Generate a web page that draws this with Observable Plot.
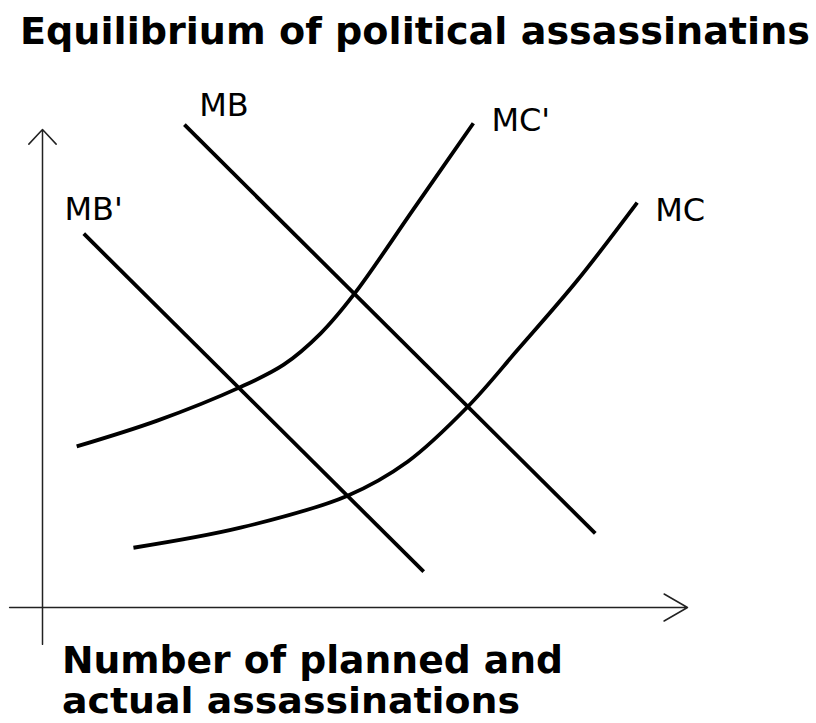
<!DOCTYPE html>
<html>
<head>
<meta charset="utf-8">
<script src="https://cdn.jsdelivr.net/npm/d3@7"></script>
<script src="https://cdn.jsdelivr.net/npm/@observablehq/plot@0.6"></script>
<style>
  html, body { margin: 0; padding: 0; background: #fff; }
  body { width: 816px; height: 723px; overflow: hidden; }
  svg { display: block; }
</style>
</head>
<body>
<div id="title"></div>
<div id="chart"></div>
<div id="caption"></div>
<script>
// ---- text ----
const titleText = "Equilibrium of political assassinatins";
const captionLines = ["Number of planned and", "actual assassinations"];

// ---- curves (abstract units: x 0..10 along horizontal axis, y 0..10 up the vertical axis) ----
const mbX = [2.20, 8.57];
const mbY = [10.10, 1.55];

const mbPrimeX = [0.64, 5.91];
const mbPrimeY = [7.82, 0.75];

const mcPrimeX = [0.53, 1.78, 3.05, 3.74, 4.31, 4.84, 5.75, 6.68];
const mcPrimeY = [3.37, 3.91, 4.60, 5.08, 5.73, 6.57, 8.33, 10.13];

const mcX = [1.41, 3.07, 4.73, 5.66, 6.60, 7.36, 8.29, 9.22];
const mcY = [1.25, 1.67, 2.34, 3.05, 4.21, 5.38, 6.84, 8.47];

// ---- curve labels ----
const labelNames = ["MB", "MB'", "MC'", "MC"];
const labelX = [2.43, 0.34, 6.96, 9.50];
const labelY = [10.29, 8.10, 9.96, 8.08];

// ---- axes (from origin) ----
const yAxisFrom = [0, -0.77];
const yAxisTo = [0, 10];
const xAxisFrom = [-0.51, 0];
const xAxisTo = [10, 0];

// build tables
const series = [
  ["MB", mbX, mbY],
  ["MB'", mbPrimeX, mbPrimeY],
  ["MC'", mcPrimeX, mcPrimeY],
  ["MC", mcX, mcY]
];
const lineData = series.flatMap(([name, xs, ys]) => xs.map((x, i) => ({name, x, y: ys[i]})));
const labels = labelNames.map((t, i) => ({t, x: labelX[i], y: labelY[i]}));

const NS = "http://www.w3.org/2000/svg";
function textSvg(h, items) {
  const svg = document.createElementNS(NS, "svg");
  svg.setAttribute("width", 816);
  svg.setAttribute("height", h);
  svg.style.overflow = "visible";
  for (const it of items) {
    const t = document.createElementNS(NS, "text");
    t.setAttribute("x", it.x);
    t.setAttribute("y", it.y);
    t.setAttribute("textLength", it.len);
    t.setAttribute("lengthAdjust", "spacingAndGlyphs");
    t.setAttribute("font-family", "DejaVu Sans");
    t.setAttribute("font-weight", "bold");
    t.setAttribute("font-size", it.size);
    t.setAttribute("fill", "#000");
    t.textContent = it.text;
    svg.appendChild(t);
  }
  return svg;
}
document.getElementById("title").appendChild(
  textSvg(80, [{x: 20, y: 44, len: 790, size: 38, text: titleText}])
);

const chart = Plot.plot({
  width: 816,
  height: 565,
  margin: 0,
  x: {domain: [0, 10], range: [42, 687], axis: null},
  y: {domain: [0, 10], range: [527, 49], axis: null},
  marks: [
    Plot.arrow([{x1: yAxisFrom[0], y1: yAxisFrom[1], x2: yAxisTo[0], y2: yAxisTo[1]}], {
      x1: "x1", y1: "y1", x2: "x2", y2: "y2",
      stroke: "#222", strokeWidth: 1.5, headLength: 20, headAngle: 86
    }),
    Plot.arrow([{x1: xAxisFrom[0], y1: xAxisFrom[1], x2: xAxisTo[0], y2: xAxisTo[1]}], {
      x1: "x1", y1: "y1", x2: "x2", y2: "y2",
      stroke: "#222", strokeWidth: 1.5, headLength: 27, headAngle: 60
    }),
    Plot.line(lineData, {
      x: "x", y: "y", z: "name", curve: "catmull-rom",
      stroke: "#000", strokeWidth: 3.8, strokeLinecap: "butt"
    }),
    Plot.text(labels, {
      x: "x", y: "y", text: "t", textAnchor: "start", lineAnchor: "bottom",
      fontSize: 32, fontFamily: "DejaVu Sans", fill: "#000"
    })
  ]
});
document.getElementById("chart").appendChild(chart);

document.getElementById("caption").appendChild(
  textSvg(78, [
    {x: 62, y: 28, len: 501, size: 37, text: captionLines[0]},
    {x: 62, y: 68, len: 458, size: 36, text: captionLines[1]}
  ])
);
</script>
</body>
</html>
